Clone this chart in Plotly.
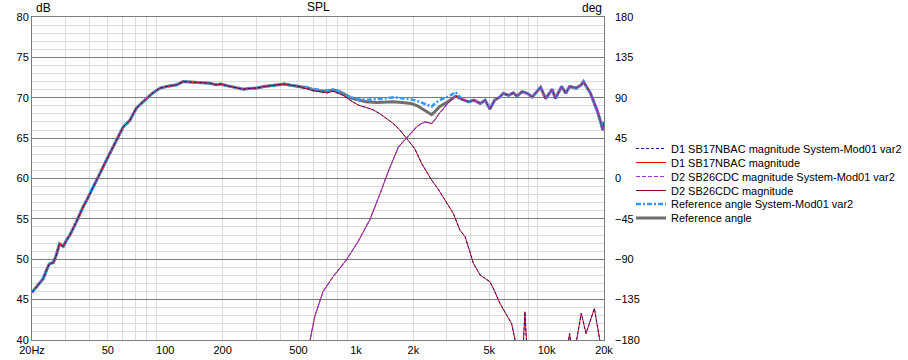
import plotly.graph_objects as go

# ---------------- data ----------------
woofer_freq = [20, 20.5, 21.3, 22.2, 22.9, 23.7, 24.6, 25.9, 26.8, 27.9, 29.2, 30.4, 31.6, 33.9,
               35.9, 37.1, 38.7, 40.5, 42.7, 45.8, 49.2, 55.6, 60.2, 65.2, 70.5, 78.9, 85.5, 93.9,
               101.6, 114.8, 124, 135, 146, 160, 172, 185, 195, 210, 220, 235, 247, 257, 275, 302,
               330, 355, 390, 422, 455, 491, 530, 560, 590, 623, 660, 706, 757, 800, 857, 930,
               1027, 1130, 1231, 1340, 1448, 1570, 1700, 1841, 2034, 2207, 2350, 2495, 2680, 2865,
               3050, 3238, 3512, 3735, 3950, 4130, 4480, 4750, 5050, 5300, 5580, 5690, 6170, 6550,
               6860, 7100, 7450, 7700, 7950, 9000, 10000, 12000, 12800, 13200, 13600, 14000, 15200,
               16100, 17800, 19600, 20000]
woofer_db = [45.9, 46.2, 46.6, 47.2, 47.6, 48.5, 49.4, 49.6, 50.5, 51.9, 51.6, 52.4, 53.0, 54.45,
             55.8, 56.5, 57.3, 58.2, 59.4, 60.8, 62.3, 64.8, 66.4, 67.2, 68.7, 69.8, 70.55, 71.2,
             71.4, 71.6, 72.0, 71.95, 71.9, 71.8, 71.8, 71.6, 71.7, 71.5, 71.4, 71.3, 71.1, 71.05,
             71.15, 71.2, 71.4, 71.5, 71.6, 71.7, 71.55, 71.45, 71.2, 71.1, 70.9, 70.8, 70.7, 70.6,
             70.8, 70.6, 70.3, 69.7, 69.1, 68.8, 68.5, 68.0, 67.45, 66.8, 66.0, 65.0, 63.7, 61.9,
             60.8, 59.8, 58.8, 57.75, 56.7, 55.7, 53.6, 52.8, 51.0, 49.5, 48.05, 47.6, 47.2, 46.2,
             45.0, 44.55, 43.1, 42.05, 39.8, 37.0, 37.0, 43.5, 37.0, 35.0, 33.0, 34.0, 38.5, 40.8,
             38.5, 38.5, 43.3, 40.8, 43.9, 38.0, 37.0]

tweeter_freq = [540, 573, 608, 672, 759, 890, 1027, 1183, 1330, 1474, 1670, 1841, 2000, 2083, 2200,
                2311, 2495, 2600, 2743, 3029, 3340, 3610, 3910, 4150, 4490, 4760, 5040, 5340, 5690,
                5930, 6310, 6700, 6990, 7440, 7920, 8410, 9300, 9880, 10700, 11100, 12000, 12600,
                13200, 14300, 15200, 15600, 16400, 17000, 17800, 18500, 19200, 19700, 20000]
tweeter_db = [37.5, 39.8, 42.9, 46.0, 47.85, 49.9, 52.2, 54.9, 57.95, 60.8, 63.9, 65.0, 66.0, 66.4,
              66.8, 67.0, 66.8, 67.3, 68.1, 69.3, 70.2, 69.8, 69.5, 69.7, 69.3, 69.7, 68.6, 69.7,
              70.1, 70.55, 70.3, 70.6, 70.2, 70.75, 70.55, 70.1, 71.3, 69.9, 71.05, 69.9, 71.4,
              70.55, 71.4, 71.2, 71.6, 72.0, 71.2, 70.55, 69.3, 68.3, 67.0, 66.0, 67.0]

# summed responses in the crossover region
sum_mid_freq = [530, 560, 590, 623, 660, 706, 757, 800, 857, 930, 1027, 1130, 1283, 1420, 1570,
                1750, 1945, 2100, 2265, 2400, 2495, 2600, 2743, 3029, 3340]
ref_mid_db = [71.3, 71.2, 71.0, 70.9, 70.85, 70.8, 70.95, 70.8, 70.5, 70.0, 69.7, 69.5, 69.4,
              69.45, 69.5, 69.4, 69.3, 69.0, 68.5, 68.1, 67.9, 68.3, 68.9, 69.5, 70.2]
sys_mid_db = [71.4, 71.3, 71.1, 71.0, 70.95, 70.9, 71.05, 70.9, 70.6, 70.1, 69.8, 69.75, 69.8,
              69.9, 70.05, 69.95, 69.8, 69.6, 69.3, 69.0, 68.9, 69.3, 69.7, 70.1, 70.7]

x_tick_vals = [20, 50, 100, 200, 500, 1000, 2000, 5000, 10000, 20000]
x_tick_text = ["20Hz", "50", "100", "200", "500", "1k", "2k", "5k", "10k", "20k"]
x_major_grid = [100, 1000, 10000]
x_minor_grid = [30, 40, 50, 60, 70, 80, 90, 200, 300, 400, 500, 600, 700, 800, 900,
                2000, 3000, 4000, 5000, 6000, 7000, 8000, 9000]

legend_names = ["D1 SB17NBAC magnitude System-Mod01 var2", "D1 SB17NBAC magnitude",
                "D2 SB26CDC magnitude System-Mod01 var2", "D2 SB26CDC magnitude",
                "Reference angle System-Mod01 var2", "Reference angle"]

# ---------------- build summed traces from read values ----------------
low_f = [f for f in woofer_freq if f < sum_mid_freq[0]]
low_db = woofer_db[:len(low_f)]
high_idx = [i for i, f in enumerate(tweeter_freq) if f > sum_mid_freq[-1]]
high_f = [tweeter_freq[i] for i in high_idx]
high_db = [tweeter_db[i] for i in high_idx]
ref_freq = low_f + sum_mid_freq + high_f
ref_db = low_db + ref_mid_db + high_db
sys_db = low_db + sys_mid_db + high_db

FONT = "Liberation Sans, Arial, sans-serif"
MAJOR = "#7c7c7c"
MINOR = "#dadada"
W, H = 908, 360

fig = go.Figure()
# draw order: thick summed curves underneath
fig.add_trace(go.Scatter(x=ref_freq, y=ref_db, mode="lines", name=legend_names[5],
                         line=dict(color="#6e6e6e", width=3), legend="legend6"))
fig.add_trace(go.Scatter(x=ref_freq, y=sys_db, mode="lines", name=legend_names[4],
                         line=dict(color="#3399ff", width=2.5, dash="5px,2px,2px,2px"),
                         legend="legend5"))
fig.add_trace(go.Scatter(x=woofer_freq, y=woofer_db, mode="lines", name=legend_names[1],
                         line=dict(color="#ff0000", width=1), legend="legend2"))
fig.add_trace(go.Scatter(x=woofer_freq, y=woofer_db, mode="lines", name=legend_names[0],
                         line=dict(color="#1a1a9a", width=1, dash="3px,2px"), legend="legend"))
fig.add_trace(go.Scatter(x=tweeter_freq, y=tweeter_db, mode="lines", name=legend_names[3],
                         line=dict(color="#8b1010", width=1), legend="legend4"))
fig.add_trace(go.Scatter(x=tweeter_freq, y=tweeter_db, mode="lines", name=legend_names[2],
                         line=dict(color="#a035e0", width=1.2, dash="4px,2px"), legend="legend3"))
# empty trace so that the right-hand degree axis is created (draws nothing)
fig.add_trace(go.Scatter(x=[], y=[], yaxis="y2", showlegend=False, hoverinfo="skip"))

plot_top, plot_bot, plot_left, plot_right = 17, 340, 32, 604
row_px = [148.5, 162.5, 176.5, 190.5, 204, 218]
leg_px = 631
legends = {}
for i, py in enumerate(row_px):
    key = "legend" if i == 0 else f"legend{i+1}"
    legends[key] = dict(x=(leg_px - plot_left) / (plot_right - plot_left), xanchor="left",
                        y=(plot_bot - py) / (plot_bot - plot_top), yanchor="middle",
                        bgcolor="rgba(0,0,0,0)", borderwidth=0,
                        font=dict(family=FONT, size=11, color="#000"))

fig.update_layout(
    width=W, height=H,
    margin=dict(l=plot_left, r=W - plot_right, t=plot_top, b=H - plot_bot, pad=0, autoexpand=False),
    paper_bgcolor="white", plot_bgcolor="white",
    font=dict(family=FONT, size=11, color="#000"),
    showlegend=True,
    xaxis=dict(type="log", range=[1.30103, 4.30103], tickmode="array", automargin=False,
               tickvals=x_tick_vals, ticktext=x_tick_text, showgrid=False, ticks="",
               zeroline=False, showline=True, mirror=True, linecolor=MAJOR, linewidth=1,
               tickfont=dict(size=11),
               minor=dict(tickmode="array", tickvals=x_minor_grid, showgrid=True,
                          gridcolor=MINOR, gridwidth=1, ticks="")),
    xaxis2=dict(type="log", range=[1.30103, 4.30103], overlaying="x", anchor="y", automargin=False,
                tickmode="array", tickvals=x_major_grid, showticklabels=False,
                showgrid=True, gridcolor=MAJOR, gridwidth=1, ticks="", zeroline=False,
                showline=False),
    yaxis=dict(range=[40, 80], dtick=5, tick0=40, showgrid=True, gridcolor=MAJOR, gridwidth=1,
               ticks="", zeroline=False, showline=True, mirror=True, linecolor=MAJOR,
               tickfont=dict(size=11), automargin=False,
               minor=dict(dtick=1, tick0=40, showgrid=True, gridcolor=MINOR, gridwidth=1, ticks="")),
    yaxis2=dict(range=[-180, 180], dtick=45, tick0=-180, overlaying="y", side="right",
                anchor="x", showgrid=False, ticks="", zeroline=False, showline=False,
                showticklabels=True, tickfont=dict(size=11), ticklabelstandoff=10,
                automargin=False),
    annotations=[
        dict(text="dB", x=0, y=1, xref="paper", yref="paper", xanchor="left", yanchor="bottom",
             xshift=2, yshift=0, showarrow=False, font=dict(size=12)),
        dict(text="deg", x=1, y=1, xref="paper", yref="paper", xanchor="right", yanchor="bottom",
             xshift=0, yshift=0, showarrow=False, font=dict(size=12)),
        dict(text="SPL", x=0.5, y=1, xref="paper", yref="paper", xanchor="center",
             yanchor="bottom", yshift=1, showarrow=False, font=dict(size=12)),
    ],
    **legends,
)

fig.write_html("out.html", config={"displayModeBar": False},
               post_script="document.body.style.margin='0';document.body.style.padding='0';")
